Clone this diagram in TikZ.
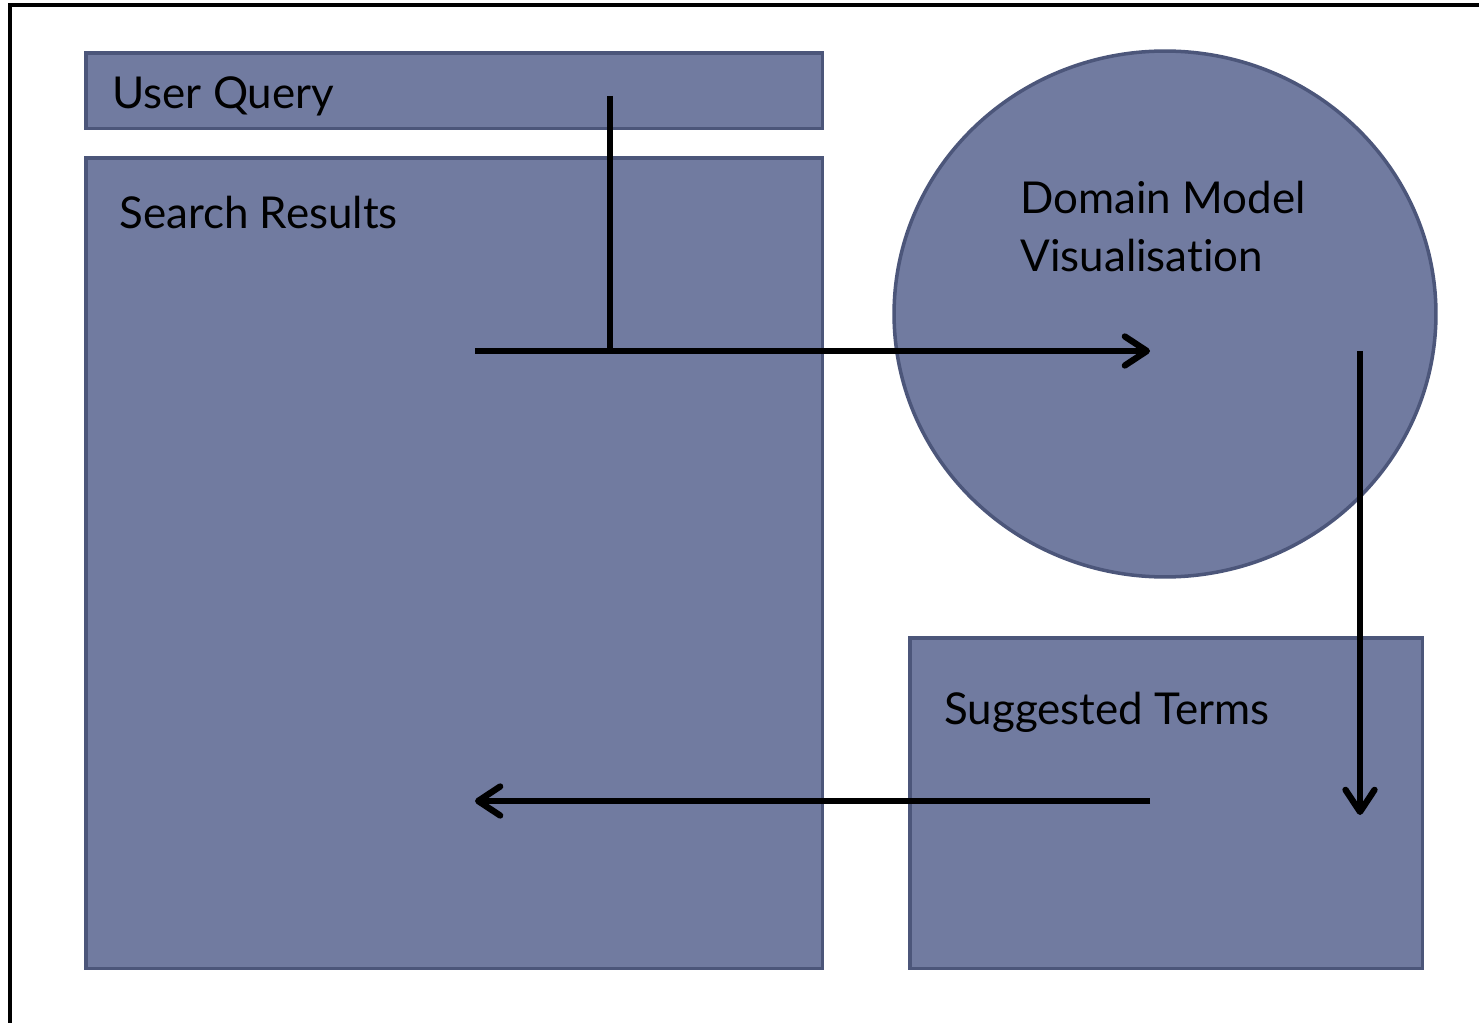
\documentclass[tikz,border=0pt]{standalone}
\usepackage{fontspec}
\setmainfont[Ligatures=NoCommon]{Lato}
\usetikzlibrary{arrows.meta,shapes.geometric}
\definecolor{panelfill}{RGB}{113,123,160}
\definecolor{paneledge}{RGB}{76,86,122}

\begin{document}
\begin{tikzpicture}[x=0.02cm,y=-0.02cm,
  panel/.style={draw=paneledge,line width=2pt,fill=panelfill,inner sep=0pt,anchor=north west},
  label/.style={anchor=base west,inner sep=0pt,font=\fontsize{25}{31}\selectfont},
  flow/.style={line width=3.6pt,-{Straight Barb[length=0.44cm,width=0.58cm,round]}}]
\useasboundingbox (0,0) rectangle (1479,1023);
% frame, only top and left edges show
\draw[line width=2.3pt] (10,1030) -- (10,5) -- (1490,5);
% panels
\node[panel,minimum width=14.74cm,minimum height=1.52cm] (query) at (84,51) {};
\node[panel,minimum width=14.74cm,minimum height=16.22cm] (results) at (84,156) {};
\node[draw=paneledge,line width=2pt,fill=panelfill,ellipse,inner sep=0pt,
  minimum width=10.84cm,minimum height=10.52cm] (model) at (1165,314) {};
\node[panel,minimum width=10.26cm,minimum height=6.62cm] (terms) at (908,636) {};
% texts
\node[label] (querytxt) at (112,109) {User Query};
\node[label] (resultstxt) at (119,229) {Search Results};
\node[label] (modeltxt) at (1020,214) {Domain Model};
\node[label] (modeltxtb) at (1020,272) {Visualisation};
\node[label] (termstxt) at (944,724) {Suggested Terms};
% flow lines
\coordinate (qtop) at (610,96);
\coordinate (join) at (610,351);
\coordinate (rin) at (475,351);
\coordinate (min) at (1150,351);
\coordinate (mout) at (1360,351);
\coordinate (tin) at (1360,815);
\coordinate (tout) at (1150,801);
\coordinate (rback) at (475,801);
\draw[line width=3.6pt] (qtop) -- (join);
\draw[flow] (rin) -- (min);
\draw[flow] (mout) -- (tin);
\draw[flow] (tout) -- (rback);
\end{tikzpicture}
\end{document}
